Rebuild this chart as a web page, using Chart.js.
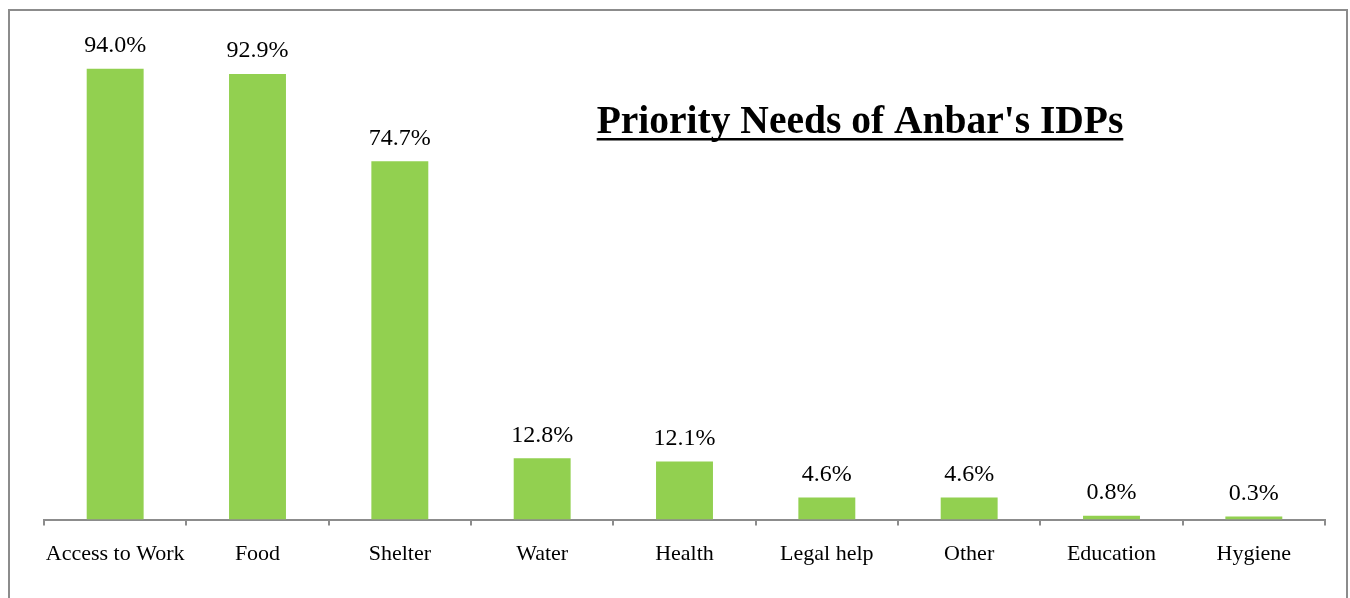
<!DOCTYPE html>
<html>
<head>
<meta charset="utf-8">
<script src="https://cdn.jsdelivr.net/npm/chart.js@4"></script>
<style>
  html, body { margin: 0; padding: 0; background: #fff; overflow: hidden; }
  #wrap { position: relative; width: 1350px; height: 598px; }
</style>
</head>
<body>
<div id="wrap"><canvas id="needsChart" width="1350" height="598"></canvas></div>
<script>
// Priority needs data
const categories = ['Access to Work', 'Food', 'Shelter', 'Water', 'Health', 'Legal help', 'Other', 'Education', 'Hygiene'];
const shares = [94.0, 92.9, 74.7, 12.8, 12.1, 4.6, 4.6, 0.8, 0.3];
const chartTitle = "Priority Needs of Anbar's IDPs";

const serif = "'Liberation Serif', 'DejaVu Serif', serif";

// outer frame + title
const framePlugin = {
  id: 'frame',
  beforeDraw(chart) {
    const c = chart.ctx;
    c.save();
    c.strokeStyle = '#8c8c8c';
    c.lineWidth = 2;
    c.strokeRect(9, 10, 1338, 600);
    c.restore();
  },
  afterDraw(chart) {
    const c = chart.ctx;
    c.save();
    c.font = 'bold 39.5px ' + serif;
    c.fillStyle = '#000';
    c.textAlign = 'center';
    c.textBaseline = 'alphabetic';
    c.fillText(chartTitle, 860, 133);
    const w = c.measureText(chartTitle).width;
    c.fillRect(860 - w / 2, 138, w, 2.5);
    c.restore();
  }
};

// percent labels above bars
const valueLabels = {
  id: 'valueLabels',
  afterDatasetsDraw(chart) {
    const c = chart.ctx;
    const meta = chart.getDatasetMeta(0);
    c.save();
    c.font = '24px ' + serif;
    c.fillStyle = '#000';
    c.textAlign = 'center';
    c.textBaseline = 'bottom';
    meta.data.forEach((bar, i) => {
      c.fillText(shares[i].toFixed(1) + '%', bar.x, bar.y - 11);
    });
    c.restore();
  }
};

const ctx = document.getElementById('needsChart').getContext('2d');
new Chart(ctx, {
  type: 'bar',
  data: {
    labels: categories,
    datasets: [{
      data: shares,
      backgroundColor: '#92d050',
      borderWidth: 0,
      minBarLength: 3,
      categoryPercentage: 1.0,
      barPercentage: 0.4
    }]
  },
  options: {
    responsive: false,
    animation: false,
    devicePixelRatio: 1,
    layout: { padding: { left: 44, right: 25, top: 40, bottom: 16 } },
    plugins: {
      legend: { display: false },
      tooltip: { enabled: false }
    },
    scales: {
      x: {
        grid: {
          offset: true,
          drawOnChartArea: false,
          drawTicks: true,
          tickLength: 6,
          color: '#8c8c8c',
          lineWidth: 2
        },
        border: { display: true, color: '#8c8c8c', width: 2 },
        ticks: {
          color: '#000',
          font: { family: serif, size: 22 },
          padding: 15,
          maxRotation: 0,
          autoSkip: false
        }
      },
      y: {
        display: false,
        min: 0,
        max: 100
      }
    }
  },
  plugins: [framePlugin, valueLabels]
});
</script>
</body>
</html>
